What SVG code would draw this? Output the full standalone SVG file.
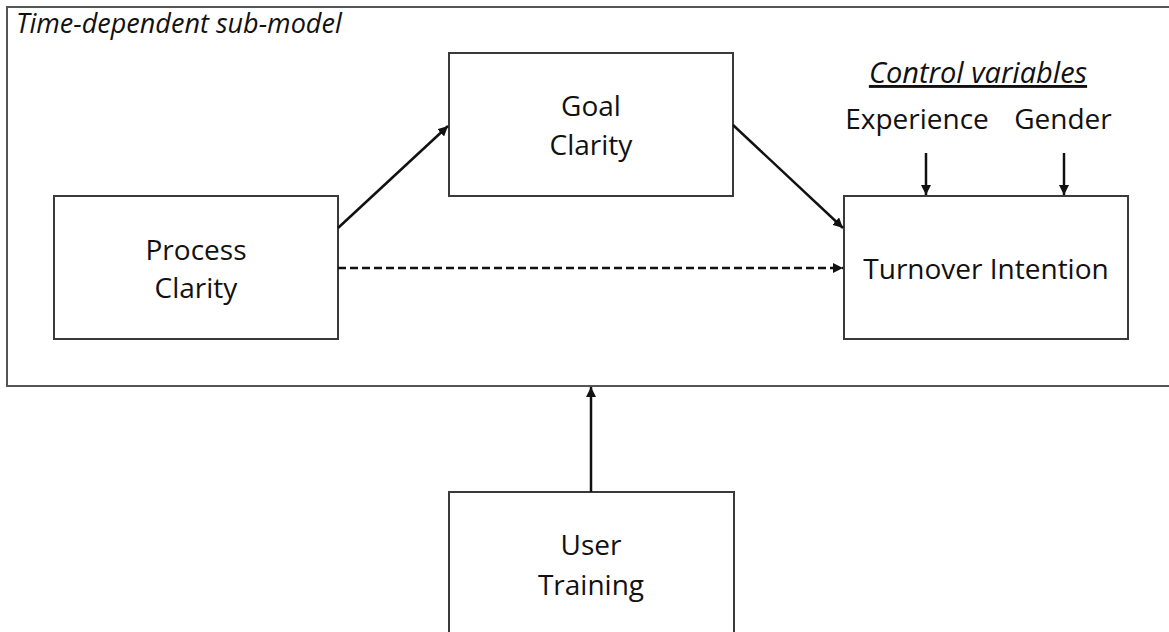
<svg xmlns="http://www.w3.org/2000/svg" width="1169" height="632" viewBox="0 0 1169 632">
<style>
.box{fill:#fff;stroke:#3a3a3a;stroke-width:2}
.frame{fill:none;stroke:#555;stroke-width:2}
.lbl{font-family:"Open Sans","Noto Sans",sans-serif;font-size:28px;fill:#111;text-anchor:middle}
.it{font-family:"Open Sans","Noto Sans",sans-serif;font-size:27px;fill:#111;font-style:italic}
.edge{stroke:#111;stroke-width:2.5;fill:none;marker-end:url(#ah)}
</style>
<defs>
<marker id="ah" viewBox="0 0 10 10" refX="10" refY="5" markerWidth="4" markerHeight="4" markerUnits="strokeWidth" orient="auto">
<path d="M0,0 L10,5 L0,10 z" fill="#111"/>
</marker>
</defs>
<rect width="1169" height="632" fill="#fff"/>
<g id="frame">
<rect class="frame" x="7" y="7" width="1170" height="379"/>
<text class="it" x="16" y="33">Time-dependent sub-model</text>
</g>
<g id="process-clarity">
<rect class="box" x="54" y="196" width="284" height="143"/>
<text class="lbl" x="196" y="260">Process</text>
<text class="lbl" x="196" y="298">Clarity</text>
</g>
<g id="goal-clarity">
<rect class="box" x="449" y="53" width="284" height="143"/>
<text class="lbl" x="591" y="116">Goal</text>
<text class="lbl" x="591" y="155">Clarity</text>
</g>
<g id="turnover-intention">
<rect class="box" x="844" y="196" width="284" height="143"/>
<text class="lbl" x="986" y="279">Turnover Intention</text>
</g>
<g id="user-training">
<rect class="box" x="449" y="492" width="285" height="150"/>
<text class="lbl" x="591" y="555">User</text>
<text class="lbl" x="591" y="595">Training</text>
</g>
<g id="control-variables">
<text class="it" x="978" y="83" text-anchor="middle" text-decoration="underline" style="font-size:29px">Control variables</text>
<text class="lbl" x="917" y="129">Experience</text>
<text class="lbl" x="1063" y="129">Gender</text>
</g>
<g id="connectors">
<line class="edge" x1="338" y1="228" x2="448" y2="126"/>
<line class="edge" x1="733" y1="125" x2="843" y2="228"/>
<line class="edge" x1="338" y1="268" x2="843" y2="268" stroke-dasharray="8,4"/>
<line class="edge" x1="926" y1="153" x2="926" y2="195"/>
<line class="edge" x1="1064" y1="153" x2="1064" y2="195"/>
<line class="edge" x1="591" y1="492" x2="591" y2="387"/>
</g>
</svg>
